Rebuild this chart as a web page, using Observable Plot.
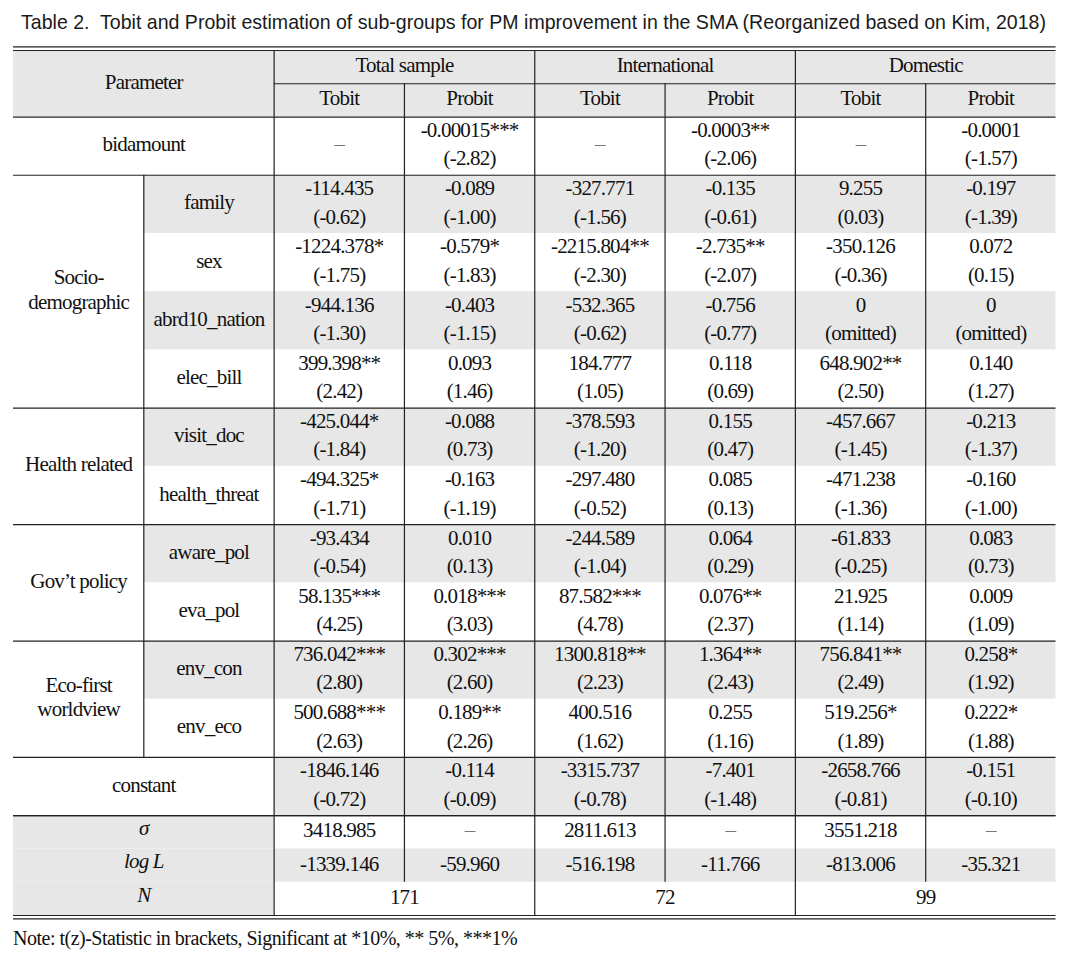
<!DOCTYPE html>
<html><head><meta charset="utf-8">
<script src="https://cdn.jsdelivr.net/npm/d3@7"></script>
<script src="https://cdn.jsdelivr.net/npm/@observablehq/plot@0.6"></script>
<style>
html,body{margin:0;padding:0;background:#fff;}
#wrap{position:relative;width:1070px;height:960px;overflow:hidden;background:#fff;}
#title{position:absolute;left:21px;top:0;white-space:pre;font-family:"Liberation Sans",Arial,sans-serif;font-size:21px;line-height:44px;color:#1a1a1a;transform-origin:0 0;}
#chart{position:absolute;left:0;top:40px;}
#note{position:absolute;left:13px;top:926px;white-space:pre;font-family:"Liberation Serif","Times New Roman",serif;font-size:20px;line-height:24px;letter-spacing:-0.5px;color:#111;}
#chart svg text{letter-spacing:-0.8px;}
</style></head><body>
<div id="wrap"><div id="title"></div><div id="chart"></div><div id="note"></div></div>
<script>
// ---------- DATA ----------
const titleText = "Table 2.  Tobit and Probit estimation of sub-groups for PM improvement in the SMA (Reorganized based on Kim, 2018)";
const noteText = "Note: t(z)-Statistic in brackets, Significant at *10%, ** 5%, ***1%";

const subgroups = ["Total sample", "International", "Domestic"];
const models = ["Tobit", "Probit"];
const variables = ["family", "sex", "abrd10_nation", "elec_bill", "visit_doc", "health_threat", "aware_pol", "eva_pol", "env_con", "env_eco"];
const groupLabels = ["Socio-\ndemographic", "Health related", "Gov\u2019t policy", "Eco-first\nworldview"];
const groupSizes = [4, 2, 2, 2];
const rowLabels = ["bidamount", ...variables, "constant"];

const totalTobit   = ["–", "-114.435", "-1224.378*", "-944.136", "399.398**", "-425.044*", "-494.325*", "-93.434", "58.135***", "736.042***", "500.688***", "-1846.146"];
const totalTobitT  = ["", "(-0.62)", "(-1.75)", "(-1.30)", "(2.42)", "(-1.84)", "(-1.71)", "(-0.54)", "(4.25)", "(2.80)", "(2.63)", "(-0.72)"];
const totalProbit  = ["-0.00015***", "-0.089", "-0.579*", "-0.403", "0.093", "-0.088", "-0.163", "0.010", "0.018***", "0.302***", "0.189**", "-0.114"];
const totalProbitT = ["(-2.82)", "(-1.00)", "(-1.83)", "(-1.15)", "(1.46)", "(0.73)", "(-1.19)", "(0.13)", "(3.03)", "(2.60)", "(2.26)", "(-0.09)"];
const intlTobit    = ["–", "-327.771", "-2215.804**", "-532.365", "184.777", "-378.593", "-297.480", "-244.589", "87.582***", "1300.818**", "400.516", "-3315.737"];
const intlTobitT   = ["", "(-1.56)", "(-2.30)", "(-0.62)", "(1.05)", "(-1.20)", "(-0.52)", "(-1.04)", "(4.78)", "(2.23)", "(1.62)", "(-0.78)"];
const intlProbit   = ["-0.0003**", "-0.135", "-2.735**", "-0.756", "0.118", "0.155", "0.085", "0.064", "0.076**", "1.364**", "0.255", "-7.401"];
const intlProbitT  = ["(-2.06)", "(-0.61)", "(-2.07)", "(-0.77)", "(0.69)", "(0.47)", "(0.13)", "(0.29)", "(2.37)", "(2.43)", "(1.16)", "(-1.48)"];
const domTobit     = ["–", "9.255", "-350.126", "0", "648.902**", "-457.667", "-471.238", "-61.833", "21.925", "756.841**", "519.256*", "-2658.766"];
const domTobitT    = ["", "(0.03)", "(-0.36)", "(omitted)", "(2.50)", "(-1.45)", "(-1.36)", "(-0.25)", "(1.14)", "(2.49)", "(1.89)", "(-0.81)"];
const domProbit    = ["-0.0001", "-0.197", "0.072", "0", "0.140", "-0.213", "-0.160", "0.083", "0.009", "0.258*", "0.222*", "-0.151"];
const domProbitT   = ["(-1.57)", "(-1.39)", "(0.15)", "(omitted)", "(1.27)", "(-1.37)", "(-1.00)", "(0.73)", "(1.09)", "(1.92)", "(1.88)", "(-0.10)"];

const sigmaValues = ["3418.985", "–", "2811.613", "–", "3551.218", "–"];
const logLValues  = ["-1339.146", "-59.960", "-516.198", "-11.766", "-813.006", "-35.321"];
const nValues     = [171, 72, 99];

// ---------- LAYOUT (table grid units) ----------
const columns = [[totalTobit, totalTobitT], [totalProbit, totalProbitT], [intlTobit, intlTobitT], [intlProbit, intlProbitT], [domTobit, domTobitT], [domProbit, domProbitT]];
const H = 1.75;               // height of a two-line row
const rowTop = r => 2 + H * r;
const GRAY = "#e7e7e7", INK = "#111", DASH = "#777";

const cells = [];
const texts = [];
const italics = [];

// header
cells.push({x1: 0, x2: 8, y1: 0, y2: 2, fill: GRAY});
texts.push({x: 1, y: 1, text: "Parameter", fill: INK});
subgroups.forEach((s, i) => texts.push({x: 3 + 2 * i, y: 0.5, text: s, fill: INK}));
for (let c = 0; c < 6; c++) texts.push({x: 2.5 + c, y: 1.5, text: models[c % 2], fill: INK});

// row labels + shading
rowLabels.forEach((lab, r) => {
  const y1 = rowTop(r), y2 = y1 + H;
  if (r === 0 || r === rowLabels.length - 1) {
    texts.push({x: 1, y: (y1 + y2) / 2, text: lab, fill: INK});
    if (r === rowLabels.length - 1) cells.push({x1: 2, x2: 8, y1, y2, fill: GRAY});
  } else {
    texts.push({x: 1.5, y: (y1 + y2) / 2, text: lab, fill: INK});
    if (r % 2 === 1) cells.push({x1: 1, x2: 8, y1, y2, fill: GRAY});
  }
});

// group labels
let g0 = 1;
const groupTexts = groupLabels.map((g, i) => {
  const y1 = rowTop(g0), y2 = rowTop(g0 + groupSizes[i]);
  g0 += groupSizes[i];
  return {x: 0.5, y: (y1 + y2) / 2, text: g};
});

// coefficients
columns.forEach((col, c) => col[0].forEach((v, r) => {
  texts.push({x: 2.5 + c, y: rowTop(r) + H / 2, text: col[1][r] ? v + "\n" + col[1][r] : v, fill: v === "–" ? DASH : INK});
}));

// summary rows
const sTop = rowTop(rowLabels.length); // 23
cells.push({x1: 0, x2: 2, y1: sTop, y2: sTop + 1, fill: GRAY});
cells.push({x1: 0, x2: 8, y1: sTop + 1, y2: sTop + 2, fill: GRAY});
cells.push({x1: 0, x2: 2, y1: sTop + 2, y2: sTop + 3, fill: GRAY});
italics.push({x: 1, y: sTop + 0.5, text: "σ"}, {x: 1, y: sTop + 1.5, text: "log L"}, {x: 1, y: sTop + 2.5, text: "N"});
sigmaValues.forEach((v, c) => texts.push({x: 2.5 + c, y: sTop + 0.5, text: v, fill: v === "–" ? DASH : INK}));
logLValues.forEach((v, c) => texts.push({x: 2.5 + c, y: sTop + 1.5, text: v, fill: INK}));
nValues.forEach((v, i) => texts.push({x: 3 + 2 * i, y: sTop + 2.5, text: String(v), fill: INK}));

// rules
const bottom = sTop + 3; // 26
const groupEnds = [1, 5, 7, 9, 11].map(r => rowTop(r)).concat([rowTop(12), sTop]);
const hLines = [{y: 0, x1: 0, x2: 8}, {y: 1, x1: 2, x2: 8}, {y: 2, x1: 0, x2: 8}, {y: bottom, x1: 0, x2: 8}]
  .concat(groupEnds.map(y => ({y, x1: 0, x2: 8})));
const vLines = [{x: 1, y1: rowTop(1), y2: rowTop(11)}]
  .concat([2, 4, 6].map(x => ({x, y1: 0, y2: bottom})))
  .concat([3, 5, 7].map(x => ({x, y1: 1, y2: bottom - 1})));

const LINE = "#222", LW = 1.2;
const serif = '"Liberation Serif", "Times New Roman", serif';
const FS = 21, DY = -4;

const plot = Plot.plot({
  width: 1070, height: 890,
  marginLeft: 13, marginRight: 14.5, marginTop: 10, marginBottom: 15,
  x: {domain: [0, 8], axis: null},
  y: {domain: [0, 26], reverse: true, axis: null},
  color: {type: "identity"},
  style: {fontFamily: serif, fontSize: FS + "px", background: "white", overflow: "visible", color: INK},
  marks: [
    Plot.rect(cells, {x1: "x1", x2: "x2", y1: "y1", y2: "y2", fill: "fill"}),
    Plot.ruleY(hLines, {y: "y", x1: "x1", x2: "x2", stroke: LINE, strokeWidth: LW}),
    Plot.ruleY([hLines[0]], {y: "y", x1: "x1", x2: "x2", dy: -3.6, stroke: LINE, strokeWidth: LW}),
    Plot.ruleY([hLines[3]], {y: "y", x1: "x1", x2: "x2", dy: 3.4, stroke: LINE, strokeWidth: LW}),
    Plot.ruleX(vLines, {x: "x", y1: "y1", y2: "y2", stroke: LINE, strokeWidth: LW}),
    Plot.text(texts, {x: "x", y: "y", text: "text", fill: "fill", fontSize: FS, fontFamily: serif, lineHeight: 1.35, dy: DY}),
    Plot.text(groupTexts, {x: "x", y: "y", text: "text", fill: INK, fontSize: FS, fontFamily: serif, lineHeight: 1.167, dy: DY + 1}),
    Plot.text(italics, {x: "x", y: "y", text: "text", fill: INK, fontSize: FS, fontFamily: serif, fontStyle: "italic", dy: DY})
  ]
});
document.getElementById("chart").appendChild(plot);

const t = document.getElementById("title");
t.textContent = titleText;
const w = t.getBoundingClientRect().width;
t.style.transform = `scaleX(${1025 / w})`;
document.getElementById("note").textContent = noteText;
</script>
</body></html>
